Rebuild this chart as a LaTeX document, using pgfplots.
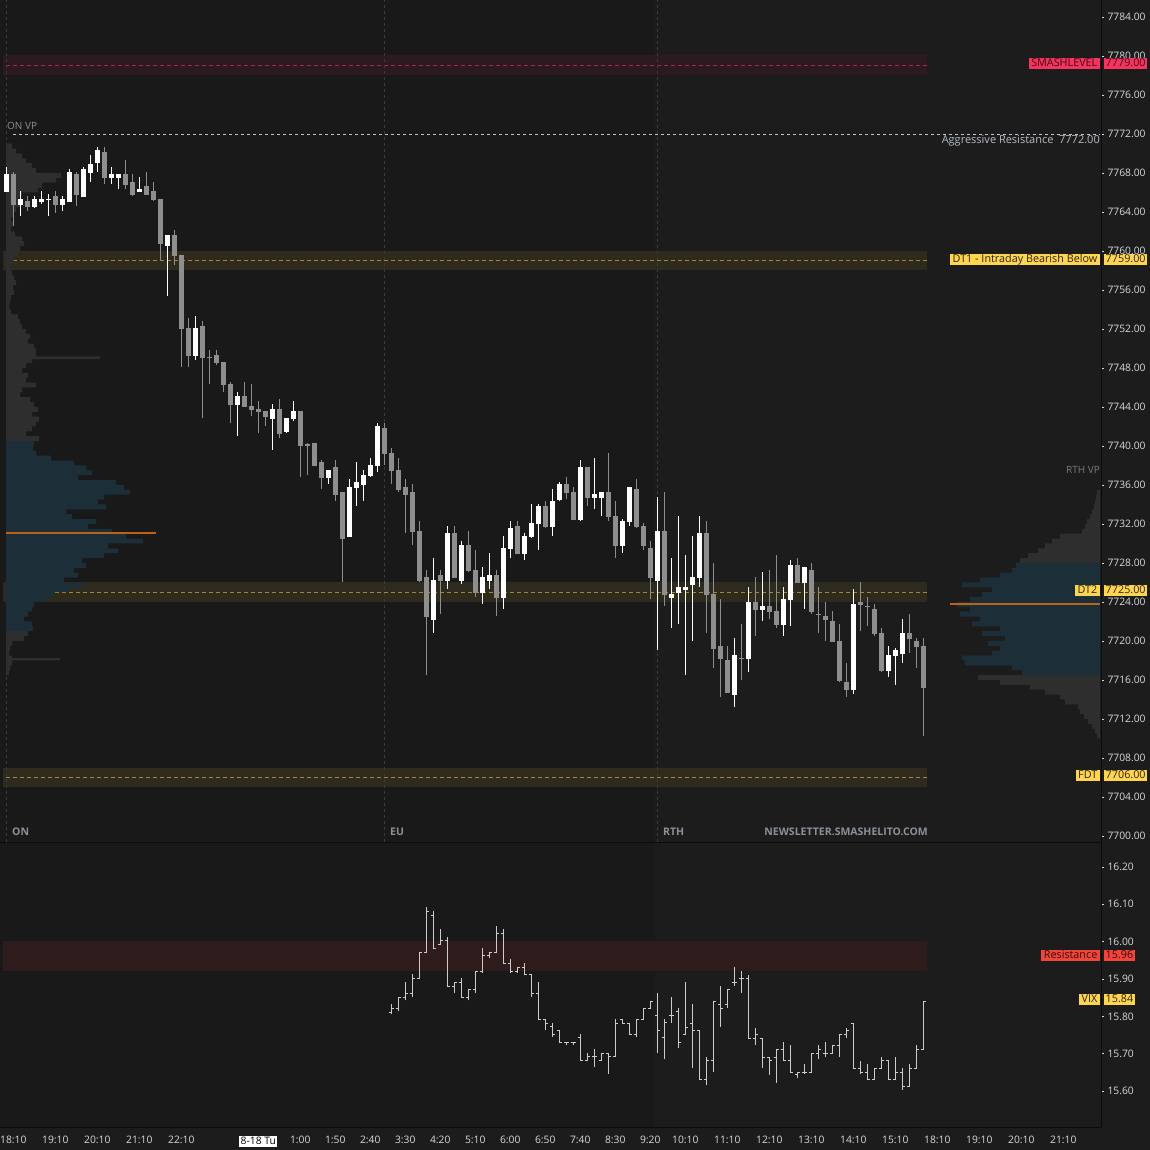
\documentclass[border=0pt]{standalone}
\usepackage{pgfplots}
\pgfplotsset{compat=1.18}
\usepackage{pgfplotstable}
\usepackage{fontspec}
\setmainfont{Open Sans}
\definecolor{bgA}{HTML}{191919}
\definecolor{bgB}{HTML}{1C1C1C}
\definecolor{lineK}{HTML}{0C0C0C}
\definecolor{upC}{HTML}{FFFFFF}
\definecolor{dnC}{HTML}{8E8E8E}
\definecolor{vixC}{HTML}{CCCCCC}
\definecolor{smashBand}{HTML}{2D1A20}
\definecolor{smashLine}{HTML}{A8284A}
\definecolor{smashBox}{HTML}{F5335E}
\definecolor{smashTxt}{HTML}{3D0A18}
\definecolor{dtBand}{HTML}{2F2A1E}
\definecolor{dtLine}{HTML}{A08A2C}
\definecolor{dtBox}{HTML}{FFD54F}
\definecolor{dtTxt}{HTML}{2A2418}
\definecolor{resBand}{HTML}{2E1C1D}
\definecolor{resBox}{HTML}{F0453B}
\definecolor{resTxt}{HTML}{3A0C0A}
\definecolor{vpGray}{HTML}{2E2E2E}
\definecolor{vpTeal}{HTML}{1C2E38}
\definecolor{pocC}{HTML}{B8621A}
\definecolor{sessC}{HTML}{3A3A3A}
\definecolor{labC}{HTML}{8A9199}
\definecolor{tickC}{HTML}{D6DADE}
\definecolor{aggC}{HTML}{C4C4C4}
\definecolor{aggTxt}{HTML}{B4BCC4}
\setlength{\fboxsep}{1.5pt}

\pgfdeclareplotmark{ohlcO}{\pgfpathmoveto{\pgfqpoint{-2.6pt}{0pt}}\pgfpathlineto{\pgfqpoint{0.5pt}{0pt}}\pgfusepathqstroke}
\pgfdeclareplotmark{ohlcC}{\pgfpathmoveto{\pgfqpoint{-0.5pt}{0pt}}\pgfpathlineto{\pgfqpoint{2.6pt}{0pt}}\pgfusepathqstroke}

\pgfplotstableread{
x o h l c
0 7766.05 7768.62 7766.05 7767.90
2 7764.75 7766.15 7763.59 7765.33
4 7764.51 7765.64 7764.41 7765.33
5 7765.03 7766.15 7764.82 7765.33
6 7765.25 7765.85 7763.59 7765.35
8 7764.72 7765.64 7764.10 7765.33
9 7765.03 7768.41 7765.03 7768.10
11 7765.54 7768.62 7765.54 7768.41
12 7768.00 7769.85 7767.08 7768.92
13 7769.06 7770.67 7768.10 7770.36
15 7767.49 7768.62 7766.87 7767.90
16 7767.49 7767.90 7766.36 7767.90
19 7766.05 7767.59 7766.05 7766.36
23 7760.51 7761.64 7755.38 7761.64
27 7749.23 7753.33 7748.82 7752.10
33 7744.20 7745.54 7741.03 7745.13
38 7742.77 7744.31 7739.59 7743.79
40 7741.44 7742.87 7741.33 7742.87
41 7742.77 7744.62 7742.56 7743.59
46 7736.72 7737.54 7736.10 7737.54
49 7730.67 7736.62 7730.67 7735.80
50 7735.69 7738.36 7733.85 7736.31
51 7736.00 7737.54 7734.36 7737.03
52 7736.92 7738.77 7736.82 7738.05
53 7737.95 7742.36 7737.34 7742.05
61 7722.16 7728.51 7720.82 7726.26
63 7726.16 7731.80 7725.34 7731.08
65 7726.16 7730.26 7725.85 7729.85
68 7724.93 7727.59 7723.80 7726.57
69 7726.16 7729.03 7725.34 7726.77
71 7724.41 7730.77 7723.28 7729.54
72 7729.44 7732.31 7728.51 7731.59
74 7728.93 7731.08 7728.31 7730.77
75 7730.67 7734.05 7730.57 7732.10
76 7732.00 7734.05 7729.34 7733.85
78 7731.69 7735.59 7730.77 7734.36
79 7734.46 7736.31 7734.36 7736.10
82 7732.41 7738.57 7732.31 7737.85
84 7734.67 7738.77 7733.54 7735.08
85 7734.67 7735.28 7732.82 7735.28
88 7729.75 7732.51 7729.03 7732.31
89 7732.21 7735.80 7731.80 7735.80
93 7726.16 7734.77 7719.08 7731.28
95 7724.41 7728.51 7721.34 7724.82
96 7724.93 7732.82 7721.75 7725.54
97 7725.23 7728.82 7716.51 7725.54
98 7725.75 7730.77 7720.00 7726.57
99 7726.46 7732.82 7725.54 7731.08
104 7714.46 7720.31 7713.23 7718.56
106 7718.15 7725.54 7716.82 7724.00
108 7723.18 7727.08 7722.05 7723.59
111 7721.64 7725.54 7720.51 7724.31
112 7724.20 7728.31 7721.54 7727.79
114 7725.95 7727.59 7723.28 7727.59
121 7714.97 7725.33 7714.56 7723.79
126 7716.92 7719.49 7716.31 7718.56
127 7718.46 7719.28 7715.49 7719.08
128 7718.67 7722.26 7717.74 7720.82
}\candUp

\pgfplotstableread{
x o h l c
1 7767.90 7768.07 7762.56 7764.75
3 7765.13 7765.64 7764.10 7764.51
7 7765.64 7766.15 7763.90 7764.72
10 7767.90 7768.10 7764.62 7765.74
14 7770.15 7770.67 7766.87 7767.49
17 7767.90 7769.33 7766.36 7766.77
18 7767.08 7767.90 7765.64 7765.74
20 7766.67 7768.10 7765.74 7765.74
21 7766.15 7767.08 7765.13 7765.23
22 7765.33 7765.33 7759.08 7760.72
24 7761.64 7762.15 7758.56 7759.49
25 7759.59 7759.59 7748.10 7752.00
26 7752.10 7753.13 7748.10 7749.23
28 7752.31 7752.82 7742.87 7749.03
29 7749.15 7749.85 7746.36 7749.05
30 7749.33 7749.85 7748.31 7748.51
31 7748.62 7748.62 7745.54 7746.26
32 7746.36 7746.56 7742.36 7744.20
34 7745.13 7746.56 7744.00 7744.00
35 7744.10 7746.36 7743.08 7743.69
36 7743.79 7744.62 7741.33 7743.49
37 7743.59 7743.59 7742.05 7742.97
39 7743.79 7744.82 7740.82 7741.23
42 7743.59 7743.59 7736.82 7740.00
43 7740.15 7740.31 7737.03 7740.05
44 7740.31 7740.31 7737.95 7737.95
45 7738.36 7738.57 7735.59 7736.72
47 7737.85 7738.57 7734.36 7734.98
48 7735.28 7735.28 7726.05 7730.46
54 7741.85 7742.36 7738.05 7739.18
55 7739.28 7739.80 7736.10 7737.44
56 7737.54 7738.77 7735.28 7735.49
57 7735.80 7736.62 7731.08 7734.98
58 7735.28 7736.10 7729.85 7731.18
59 7731.28 7732.31 7726.05 7726.16
60 7726.57 7727.28 7716.51 7722.46
62 7726.77 7727.28 7722.77 7726.16
64 7731.08 7731.80 7726.46 7726.46
66 7729.85 7731.28 7727.08 7727.18
67 7727.28 7729.34 7724.52 7724.93
70 7726.77 7727.28 7722.57 7724.41
73 7731.80 7732.31 7728.93 7728.93
77 7733.85 7734.36 7731.59 7731.69
80 7736.10 7736.82 7734.57 7735.18
81 7735.28 7735.80 7732.41 7732.41
83 7737.85 7737.85 7733.85 7734.67
86 7735.28 7739.28 7732.31 7732.72
87 7732.82 7734.36 7728.51 7729.75
90 7735.59 7736.62 7731.59 7731.69
91 7731.80 7732.10 7729.34 7729.75
92 7729.54 7730.26 7724.31 7726.46
94 7731.28 7735.28 7723.59 7724.72
100 7731.08 7732.31 7720.82 7724.72
101 7724.82 7728.00 7717.23 7719.18
102 7719.49 7724.31 7714.26 7718.15
103 7718.05 7719.49 7714.67 7714.67
105 7718.27 7721.74 7716.00 7718.17
107 7724.00 7726.56 7720.51 7723.18
109 7723.59 7727.28 7722.26 7722.97
110 7723.08 7728.82 7721.33 7721.64
113 7727.79 7728.51 7725.95 7725.95
115 7727.28 7728.00 7722.77 7722.97
116 7722.78 7725.54 7720.82 7722.68
117 7722.56 7724.00 7720.00 7722.15
118 7722.05 7723.08 7719.90 7719.90
119 7720.00 7721.74 7715.79 7715.90
120 7715.79 7717.74 7714.26 7714.97
122 7724.00 7726.05 7721.03 7723.69
123 7723.60 7724.51 7721.54 7723.50
124 7723.28 7723.79 7720.51 7720.72
125 7720.82 7721.33 7716.82 7716.92
129 7720.82 7722.77 7718.77 7720.20
130 7720.00 7720.31 7717.23 7719.38
131 7719.49 7720.31 7710.26 7715.18
}\candDn

\pgfplotstableread{
x o h l c
55 15.811 15.832 15.805 15.821
56 15.821 15.851 15.813 15.851
57 15.851 15.891 15.843 15.862
58 15.862 15.913 15.853 15.902
59 15.902 15.971 15.902 15.971
60 15.971 16.092 15.971 16.082
61 16.071 16.082 15.982 15.982
62 15.993 16.033 15.993 16.002
63 16.002 16.012 15.880 15.880
64 15.880 15.891 15.863 15.891
65 15.891 15.902 15.851 15.851
66 15.851 15.872 15.843 15.872
67 15.872 15.921 15.863 15.921
68 15.921 15.982 15.915 15.962
69 15.962 15.971 15.955 15.971
70 15.971 16.042 15.971 16.022
71 16.022 16.033 15.942 15.942
72 15.942 15.953 15.915 15.921
73 15.921 15.931 15.915 15.931
74 15.931 15.942 15.913 15.913
75 15.913 15.913 15.853 15.862
76 15.862 15.891 15.792 15.792
77 15.792 15.792 15.763 15.781
78 15.772 15.781 15.744 15.752
79 15.763 15.763 15.730 15.730
80 15.730 15.730 15.723 15.730
81 15.730 15.730 15.723 15.730
82 15.744 15.752 15.683 15.683
83 15.683 15.701 15.683 15.692
84 15.692 15.712 15.663 15.692
85 15.683 15.701 15.683 15.701
86 15.701 15.701 15.645 15.692
87 15.692 15.792 15.692 15.781
88 15.792 15.792 15.781 15.781
89 15.781 15.781 15.752 15.752
90 15.752 15.792 15.744 15.792
91 15.792 15.821 15.792 15.821
92 15.821 15.841 15.821 15.841
93 15.803 15.862 15.703 15.763
94 15.743 15.792 15.685 15.783
95 15.803 15.851 15.783 15.803
96 15.812 15.821 15.714 15.730
97 15.752 15.891 15.752 15.770
98 15.781 15.833 15.662 15.763
99 15.763 15.763 15.631 15.631
100 15.631 15.690 15.615 15.683
101 15.683 15.841 15.652 15.841
102 15.833 15.881 15.772 15.821
103 15.833 15.872 15.823 15.872
104 15.891 15.931 15.882 15.891
105 15.902 15.921 15.863 15.902
106 15.902 15.912 15.741 15.741
107 15.741 15.770 15.723 15.752
108 15.741 15.741 15.662 15.690
109 15.690 15.690 15.643 15.683
110 15.690 15.712 15.622 15.712
111 15.712 15.730 15.683 15.683
112 15.683 15.723 15.650 15.650
113 15.643 15.650 15.634 15.650
114 15.650 15.672 15.645 15.650
115 15.650 15.701 15.650 15.701
116 15.701 15.723 15.685 15.712
117 15.701 15.730 15.692 15.701
118 15.701 15.723 15.701 15.723
119 15.723 15.752 15.692 15.752
120 15.752 15.770 15.743 15.763
121 15.781 15.781 15.661 15.661
122 15.661 15.681 15.645 15.650
123 15.650 15.672 15.631 15.631
124 15.631 15.661 15.631 15.661
125 15.661 15.690 15.661 15.683
126 15.683 15.683 15.631 15.631
127 15.631 15.690 15.631 15.650
128 15.650 15.661 15.604 15.613
129 15.613 15.672 15.613 15.661
130 15.661 15.723 15.661 15.712
131 15.712 15.841 15.712 15.841
}\vix

% ON volume profile (p = bottom of row, w = width in px)
\pgfplotstableread{
p w
7740.5 33
7741.0 20
7741.5 26
7742.0 30
7742.5 33
7743.0 26
7743.5 32
7744.0 28
7744.5 24
7745.0 14
7745.5 16
7746.0 30
7746.5 20
7747.0 22
7747.5 16
7748.0 20
7748.5 26
7748.9 94
7749.2 30
7749.5 30
7750.0 28
7750.5 22
7751.0 24
7751.5 20
7752.0 16
7752.5 14
7753.0 12
7753.5 5
7754.0 3
7754.5 4
7755.0 5
7755.5 8
7756.0 7
7756.5 10
7757.0 8
7757.5 6
7758.0 4
7758.5 6
7759.0 8
7759.5 12
7760.0 14
7760.5 18
7761.0 16
7761.5 9
7762.0 5
7762.5 7
7763.0 5
7763.5 7
7764.0 10
7764.5 14
7765.0 12
7765.5 16
7766.0 32
7766.5 36
7767.0 50
7767.5 55
7768.0 30
7768.5 26
7769.0 20
7769.5 16
7770.0 10
7770.5 6
7771.0 0
}\onHigh

\pgfplotstableread{
p w
7721.0 27
7721.5 26
7722.0 18
7722.5 22
7723.0 26
7723.5 28
7724.0 40
7724.5 48
7725.0 62
7725.5 76
7726.0 58
7726.5 72
7727.0 68
7727.5 80
7728.0 76
7728.5 98
7729.0 112
7729.5 102
7730.0 137
7730.5 120
7731.0 106
7731.5 82
7732.0 90
7732.5 66
7733.0 60
7733.5 100
7734.0 92
7734.5 98
7735.0 124
7735.5 118
7736.0 110
7736.5 72
7737.0 86
7737.5 80
7738.0 68
7738.5 45
7739.0 30
7739.5 27
7740.0 28
7740.5 0
}\onVA

\pgfplotstableread{
p w
7716.5 3
7717.0 4
7717.5 6
7718.0 54
7718.25 6
7718.5 3
7719.0 4
7719.5 6
7720.0 18
7720.5 22
7721.0 0
}\onLow

% RTH volume profile (width measured leftwards from the price scale)
\pgfplotstableread{
p w
7710.0 3
7710.5 5
7711.0 8
7711.5 12
7712.0 16
7712.5 20
7713.0 22
7713.5 35
7714.0 40
7714.5 55
7715.0 70
7715.5 100
7716.0 122
7716.5 0
}\rthLow

\pgfplotstableread{
p w
7716.5 78
7717.0 88
7717.5 135
7718.0 138
7718.5 108
7719.0 100
7719.5 112
7720.0 95
7720.5 118
7721.0 100
7721.5 128
7722.0 120
7722.5 140
7723.0 130
7723.5 143
7724.0 130
7724.5 118
7725.0 108
7725.5 138
7726.0 120
7726.5 100
7727.0 88
7727.5 84
7728.0 0
}\rthVA

\pgfplotstableread{
p w
7728.0 80
7728.5 72
7729.0 62
7729.5 55
7730.0 48
7730.5 40
7731.0 18
7731.5 15
7732.0 13
7732.5 10
7733.0 8
7733.5 6
7734.0 5
7734.5 4
7735.0 3
7735.5 0
}\rthHigh

\pgfplotsset{
  upper/.style={at={(0pt,308pt)}, anchor=south west, width=1101pt, height=842pt,
    scale only axis, ymin=7699.385, ymax=7785.744},
  hiddenax/.style={hide axis, clip=true},
  nomark/.style={only marks, mark=*, mark size=0pt, mark options={draw=none, fill=none}, forget plot},
  wick/.style={nomark,
    error bars/.cd, y dir=plus, y explicit, error mark=none,
    error bar style={draw=#1, line width=1pt}},
  body/.style={nomark,
    error bars/.cd, y dir=plus, y explicit, error mark=none,
    error bar style={draw=#1, line width=4.7pt}},
}
\tikzset{lvl/.style={inner xsep=2.5pt, inner ysep=0pt, text height=8.2pt, text depth=2.8pt,
  font=\fontsize{10.8}{12}\selectfont}}

\begin{document}
\begin{tikzpicture}[x=1pt,y=1pt]
\useasboundingbox (0,0) rectangle (1150,1150);
\fill[bgB] (0,0) rectangle (1150,1150);
\fill[bgA] (0,308) rectangle (655,1150);
\fill[bgA] (0,23) rectangle (655,307);

% ---- levels
\begin{axis}[upper, hiddenax, xmin=-0.9, xmax=156.386]
\addplot[fill=smashBand, draw=none] coordinates {(-0.5,7778.1)(131.5,7778.1)(131.5,7780.05)(-0.5,7780.05)} -- cycle;
\addplot[smashLine, line width=0.8pt, dash pattern=on 4pt off 3pt] coordinates {(0,7779)(131.5,7779)};
\addplot[fill=dtBand, draw=none] coordinates {(-0.5,7758.1)(131.5,7758.1)(131.5,7760.05)(-0.5,7760.05)} -- cycle;
\addplot[dtLine, line width=0.8pt, dash pattern=on 4pt off 3pt] coordinates {(0,7759)(131.5,7759)};
\addplot[fill=dtBand, draw=none] coordinates {(-0.5,7724.05)(131.5,7724.05)(131.5,7726.05)(-0.5,7726.05)} -- cycle;
\addplot[dtLine, line width=0.8pt, dash pattern=on 4pt off 3pt] coordinates {(0,7725)(131.5,7725)};
\addplot[fill=dtBand, draw=none] coordinates {(-0.5,7705.05)(131.5,7705.05)(131.5,7707.0)(-0.5,7707.0)} -- cycle;
\addplot[dtLine, line width=0.8pt, dash pattern=on 4pt off 3pt] coordinates {(0,7706)(131.5,7706)};
\addplot[aggC, line width=0.8pt, dash pattern=on 3pt off 3pt] coordinates {(1,7772)(156.2,7772)};
\addplot[sessC, line width=0.9pt, dash pattern=on 3pt off 3pt] coordinates {(0,7699.4)(0,7785.7)};
\addplot[sessC, line width=0.9pt, dash pattern=on 3pt off 3pt] coordinates {(54,7699.4)(54,7785.7)};
\addplot[sessC, line width=0.9pt, dash pattern=on 3pt off 3pt] coordinates {(93,7699.4)(93,7785.7)};
\end{axis}

% ---- ON volume profile
\begin{axis}[upper, hiddenax, xmin=-6, xmax=1095]
\addplot[xbar interval, fill=vpGray, draw=none] table[x=w, y=p] \onHigh;
\addplot[xbar interval, fill=vpTeal, draw=none] table[x=w, y=p] \onVA;
\addplot[xbar interval, fill=vpGray, draw=none] table[x=w, y=p] \onLow;
\addplot[pocC, line width=1.8pt] coordinates {(0,7731.1)(150,7731.1)};
\end{axis}

% ---- RTH volume profile
\begin{axis}[upper, hiddenax, x dir=reverse, xmin=-1, xmax=1100]
\addplot[xbar interval, fill=vpGray, draw=none] table[x=w, y=p] \rthLow;
\addplot[xbar interval, fill=vpTeal, draw=none] table[x=w, y=p] \rthVA;
\addplot[xbar interval, fill=vpGray, draw=none] table[x=w, y=p] \rthHigh;
\addplot[pocC, line width=1.8pt] coordinates {(0,7723.83)(150,7723.83)};
\end{axis}

% ---- candles + price scale
\begin{axis}[upper, xmin=-0.9, xmax=156.386,
  axis line style={draw=none}, xtick=\empty,
  ytick={7700,7704,...,7784}, ytick pos=right, yticklabel pos=right,
  scaled y ticks=false,
  yticklabel style={font=\fontsize{10.3}{11}\selectfont, text=tickC,
    /pgf/number format/.cd, fixed, fixed zerofill, precision=2, 1000 sep={}, assume math mode=true},
  tick align=outside, major tick length=3pt,
  ytick style={draw=tickC, line width=0.7pt}]
\addplot[wick=dnC] table[x=x, y=l, y error plus expr=\thisrow{h}-\thisrow{l}] \candDn;
\addplot[body=dnC] table[x=x, y expr={min(\thisrow{o},\thisrow{c})}, y error plus expr={max(abs(\thisrow{c}-\thisrow{o}),0.12)}] \candDn;
\addplot[wick=upC] table[x=x, y=l, y error plus expr=\thisrow{h}-\thisrow{l}] \candUp;
\addplot[body=upC] table[x=x, y expr={min(\thisrow{o},\thisrow{c})}, y error plus expr={max(abs(\thisrow{c}-\thisrow{o}),0.12)}] \candUp;
\end{axis}

% ---- VIX panel
\begin{axis}[at={(0pt,23pt)}, anchor=south west, width=1101pt, height=284pt, scale only axis,
  xmin=-0.9, xmax=156.386, ymin=15.5036, ymax=16.2643,
  axis line style={draw=none},
  ytick={15.6,15.7,...,16.25}, ytick pos=right, yticklabel pos=right,
  scaled y ticks=false,
  yticklabel style={font=\fontsize{10.3}{11}\selectfont, text=tickC,
    /pgf/number format/.cd, fixed, fixed zerofill, precision=2, assume math mode=true},
  xtick={1,7,13,19,25,36,42,47,52,57,62,67,72,77,82,87,92,97,103,109,115,121,127,133,139,145,151},
  xticklabels={18:10,19:10,20:10,21:10,22:10,{\colorbox{white}{\textcolor{black}{8-18 Tu}}},1:00,1:50,2:40,3:30,4:20,5:10,6:00,6:50,7:40,8:30,9:20,10:10,11:10,12:10,13:10,14:10,15:10,18:10,19:10,20:10,21:10},
  xtick pos=bottom,
  xticklabel style={font=\fontsize{10.3}{11}\selectfont, text=tickC, yshift=-2.5pt},
  xtick style={draw=none},
  tick align=outside, major tick length=3pt,
  ytick style={draw=tickC, line width=0.7pt}]
\addplot[fill=resBand, draw=none] coordinates {(-0.5,15.921)(131.5,15.921)(131.5,16.002)(-0.5,16.002)} -- cycle;
\addplot[wick=vixC] table[x=x, y=l, y error plus expr=\thisrow{h}-\thisrow{l}] \vix;
\addplot[only marks, mark=ohlcO, mark options={draw=vixC, line width=1pt}] table[x=x, y=o] \vix;
\addplot[only marks, mark=ohlcC, mark options={draw=vixC, line width=1pt}] table[x=x, y=c] \vix;
\end{axis}

% ---- frame lines
\draw[lineK, line width=1pt] (0,307.5) -- (1101,307.5);
\draw[lineK, line width=1pt] (0,22.5) -- (1101,22.5);
\draw[lineK, line width=1pt] (1101.5,22.5) -- (1101.5,1150);

% ---- texts
\node[anchor=west, text=labC, font=\fontsize{10}{11}\selectfont, inner sep=0pt] at (7,1024) {ON VP};
\node[anchor=east, text=labC!85!black, font=\fontsize{10}{11}\selectfont, inner sep=0pt] at (1100,680) {RTH VP};
\node[anchor=west, text=labC, font=\bfseries\fontsize{10.5}{11}\selectfont, inner sep=0pt] at (12,318) {ON};
\node[anchor=west, text=labC, font=\bfseries\fontsize{10.5}{11}\selectfont, inner sep=0pt] at (390,318) {EU};
\node[anchor=west, text=labC, font=\bfseries\fontsize{10.5}{11}\selectfont, inner sep=0pt] at (663,318) {RTH};
\node[anchor=east, text=labC, font=\bfseries\fontsize{10.5}{11}\selectfont, inner sep=0pt] at (928,318) {NEWSLETTER.SMASHELITO.COM};
\node[anchor=east, text=aggTxt, font=\fontsize{11}{12}\selectfont, inner sep=0pt] at (1100,1009) {Aggressive Resistance\ \ 7772.00};

\node[lvl, fill=smashBox, text=smashTxt, anchor=east] at (1100,1086.5) {SMASHLEVEL};
\node[lvl, fill=smashBox, text=smashTxt, anchor=west, inner xsep=1.5pt] at (1104,1086.5) {7779.00};
\node[lvl, fill=dtBox, text=dtTxt, anchor=east] at (1100,890.5) {DT1 - Intraday Bearish Below};
\node[lvl, fill=dtBox, text=dtTxt, anchor=west, inner xsep=1.5pt] at (1104,890.5) {7759.00};
\node[lvl, fill=dtBox, text=dtTxt, anchor=east] at (1100,559) {DT2};
\node[lvl, fill=dtBox, text=dtTxt, anchor=west, inner xsep=1.5pt] at (1104,559) {7725.00};
\node[lvl, fill=dtBox, text=dtTxt, anchor=east] at (1100,374) {FDT};
\node[lvl, fill=dtBox, text=dtTxt, anchor=west, inner xsep=1.5pt] at (1104,374) {7706.00};
\node[lvl, fill=resBox, text=resTxt, anchor=east] at (1100,194.5) {Resistance};
\node[lvl, fill=resBox, text=resTxt, anchor=west, inner xsep=1.5pt] at (1104,194.5) {15.96};
\node[lvl, fill=dtBox, text=dtTxt, anchor=east] at (1100,150) {VIX};
\node[lvl, fill=dtBox, text=dtTxt, anchor=west, inner xsep=1.5pt] at (1104,150) {15.84};
\end{tikzpicture}
\end{document}
